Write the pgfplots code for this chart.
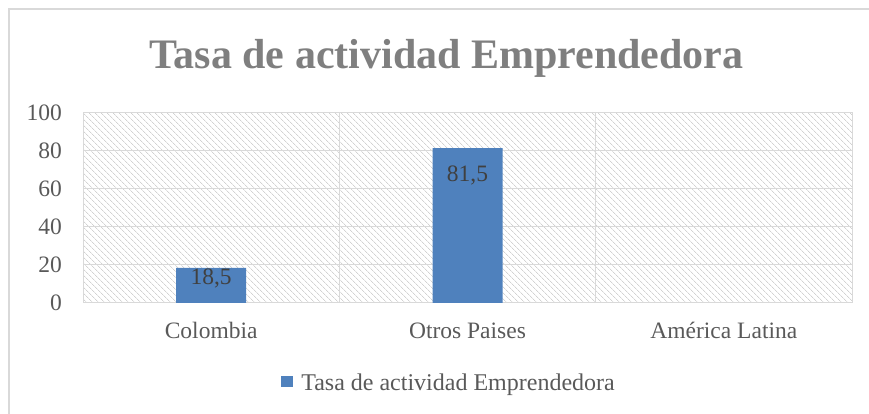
\documentclass[border=0pt]{standalone}
\usepackage{fontspec}
\setmainfont{Liberation Serif}
\usepackage{pgfplots}
\pgfplotsset{compat=1.18}
\usetikzlibrary{patterns.meta}
\definecolor{barblue}{HTML}{4F81BD}
\definecolor{txtgray}{HTML}{595959}
\definecolor{titlegray}{HTML}{7F7F7F}
\definecolor{lblgray}{HTML}{404040}
\definecolor{gridgray}{HTML}{D9D9D9}
\definecolor{hatchgray}{HTML}{D2D2D2}
\begin{document}
\begin{tikzpicture}[x=1pt,y=1pt]
\useasboundingbox (0,0) rectangle (869,414);
\draw[gridgray, line width=1.2pt] (9,0) -- (9,405) -- (869,405);
\node[font=\fontsize{42}{48}\selectfont\bfseries, text=titlegray, anchor=base] at (446.5,345) {Tasa de actividad Emprendedora};
\begin{axis}[
  at={(83pt,111pt)}, anchor=south west,
  scale only axis, width=769pt, height=190pt,
  xmin=-0.5, xmax=2.5, ymin=0, ymax=100,
  xtick={0,1,2}, xticklabels={Colombia, Otros Paises, América Latina},
  minor xtick={0.5,1.5},
  ytick={0,20,...,100},
  ymajorgrids, xminorgrids,
  grid style={gridgray, line width=1pt},
  minor grid style={gridgray, line width=1pt},
  axis line style={gridgray, line width=1pt},
  major tick length=0pt, minor tick length=0pt,
  tick label style={font=\fontsize{23.5}{27}\selectfont, text=txtgray},
  /pgf/number format/assume math mode=true,
  yticklabel style={inner sep=0pt, anchor=east, xshift=-21pt},
  xticklabel style={inner sep=0pt, anchor=north, text height=16pt, yshift=-19pt},
  axis background/.style={pattern={Lines[angle=-45,distance=4pt,line width=0.7pt]}, pattern color=hatchgray},
  legend style={at={(0.476,-0.421)}, anchor=center, draw=none, fill=none,
    font=\fontsize{24}{28}\selectfont, text=txtgray, inner sep=0pt},
  legend image code/.code={\fill[barblue] (0pt,-4pt) rectangle (12pt,7pt); \path (18pt,0pt);},
]
\addplot[ybar, bar width=70pt, fill=barblue, draw=none] coordinates {(0,18.5) (1,81.5)};
\addlegendentry{Tasa de actividad Emprendedora}
\node[font=\fontsize{23.5}{27}\selectfont, text=lblgray, anchor=base] at (axis cs:0,9.5) {18,5};
\node[font=\fontsize{23.5}{27}\selectfont, text=lblgray, anchor=base] at (axis cs:1,63.7) {81,5};
\end{axis}
\end{tikzpicture}
\end{document}
